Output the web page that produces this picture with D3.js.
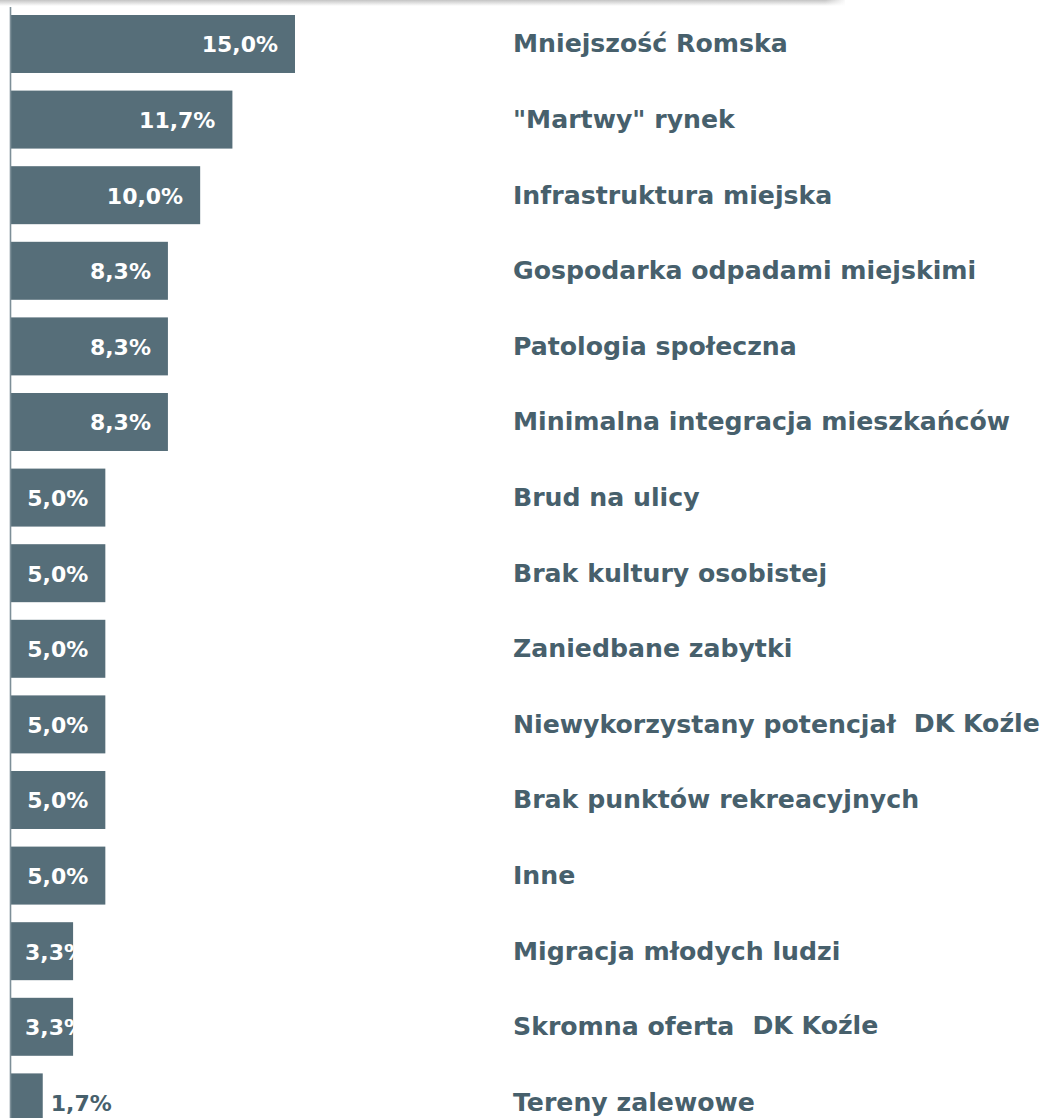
<!DOCTYPE html>
<html>
<head>
<meta charset="utf-8">
<script src="https://cdn.jsdelivr.net/npm/d3@7"></script>
<style>
  html, body { margin: 0; padding: 0; background: #fff; overflow: hidden; }
  svg { display: block; }
</style>
</head>
<body>
<script>
const categories = [
  "Mniejszość Romska",
  "\"Martwy\" rynek",
  "Infrastruktura miejska",
  "Gospodarka odpadami miejskimi",
  "Patologia społeczna",
  "Minimalna integracja mieszkańców",
  "Brud na ulicy",
  "Brak kultury osobistej",
  "Zaniedbane zabytki",
  "Niewykorzystany potencjał",
  "Brak punktów rekreacyjnych",
  "Inne",
  "Migracja młodych ludzi",
  "Skromna oferta",
  "Tereny zalewowe"
];
const values = [15.0, 11.7, 10.0, 8.3, 8.3, 8.3, 5.0, 5.0, 5.0, 5.0, 5.0, 5.0, 3.3, 3.3, 1.7];
const noteCategories = ["Niewykorzystany potencjał", "Skromna oferta"];
const noteTexts = ["DK Koźle", "DK Koźle"];

const W = 1045, H = 1118;
const barColor = "#566e79";
const textColor = "#47606c";
const font = "'DejaVu Sans', sans-serif";

const svg = d3.select("body").append("svg").attr("width", W).attr("height", H);

// top shadow strip
const defs = svg.append("defs");
const grad = defs.append("linearGradient").attr("id", "shadow").attr("x1", 0).attr("y1", 0).attr("x2", 0).attr("y2", 1);
grad.append("stop").attr("offset", "0%").attr("stop-color", "#c4c4c4");
grad.append("stop").attr("offset", "100%").attr("stop-color", "#ffffff");
const gradR = defs.append("linearGradient").attr("id", "shadowR").attr("x1", 0).attr("y1", 0).attr("x2", 1).attr("y2", 0);
gradR.append("stop").attr("offset", "0%").attr("stop-color", "#fff").attr("stop-opacity", 0);
gradR.append("stop").attr("offset", "100%").attr("stop-color", "#fff").attr("stop-opacity", 1);
svg.append("rect").attr("x", 0).attr("y", 0).attr("width", 845).attr("height", 6).attr("fill", "url(#shadow)");
svg.append("rect").attr("x", 825).attr("y", 0).attr("width", 22).attr("height", 6).attr("fill", "url(#shadowR)");

const x = d3.scaleLinear().domain([0, 15]).range([10.5, 295]);
const step = 75.6;
const y = d3.scaleBand()
  .domain(categories)
  .range([15 - step * 0.1165, 15 - step * 0.1165 + step * 15])
  .paddingInner(0.233)
  .paddingOuter(0.1165);

const data = categories.map((c, i) => ({ c, v: values[i] }));

svg.append("g").selectAll("rect").data(data).join("rect")
  .attr("x", x(0))
  .attr("y", d => y(d.c))
  .attr("width", d => x(d.v) - x(0))
  .attr("height", y.bandwidth())
  .attr("fill", barColor);

// axis line
svg.append("line")
  .attr("x1", 10.5).attr("x2", 10.5)
  .attr("y1", 7).attr("y2", H)
  .attr("stroke", "#7d8f98").attr("stroke-width", 1.6);

const fmt = v => v.toFixed(1).replace(".", ",") + "%";

// value labels
const vl = svg.append("g").selectAll("text").data(data).join("text")
  .attr("font-family", font)
  .attr("font-weight", 700)
  .attr("font-size", 22)
  .attr("dominant-baseline", "central")
  .attr("y", d => y(d.c) + y.bandwidth() / 2 + 1)
  .text(d => fmt(d.v));

vl.each(function(d) {
  const w = this.getComputedTextLength();
  const end = x(d.v);
  const barW = end - x(0);
  const sel = d3.select(this);
  if (barW < 45) {
    sel.attr("x", end + 8).attr("fill", textColor);
  } else {
    sel.attr("x", Math.max(end - 17 - w, 25)).attr("fill", "#ffffff");
  }
});

// category labels
const labelX = 513;
const cl = svg.append("g").selectAll("text").data(data).join("text")
  .attr("font-family", font)
  .attr("font-weight", 700)
  .attr("font-size", 25.2)
  .attr("fill", textColor)
  .attr("dominant-baseline", "central")
  .attr("x", labelX)
  .attr("y", d => y(d.c) + y.bandwidth() / 2)
  .text(d => d.c);

// notes
cl.each(function(d) {
  const idx = noteCategories.indexOf(d.c);
  if (idx < 0) return;
  const w = this.getComputedTextLength();
  svg.append("text")
    .attr("font-family", font)
    .attr("font-weight", 700)
    .attr("font-size", 25.2)
    .attr("fill", textColor)
    .attr("dominant-baseline", "central")
    .attr("x", labelX + w + 18)
    .attr("y", y(d.c) + y.bandwidth() / 2 - 1)
    .text(noteTexts[idx]);
});
</script>
</body>
</html>
